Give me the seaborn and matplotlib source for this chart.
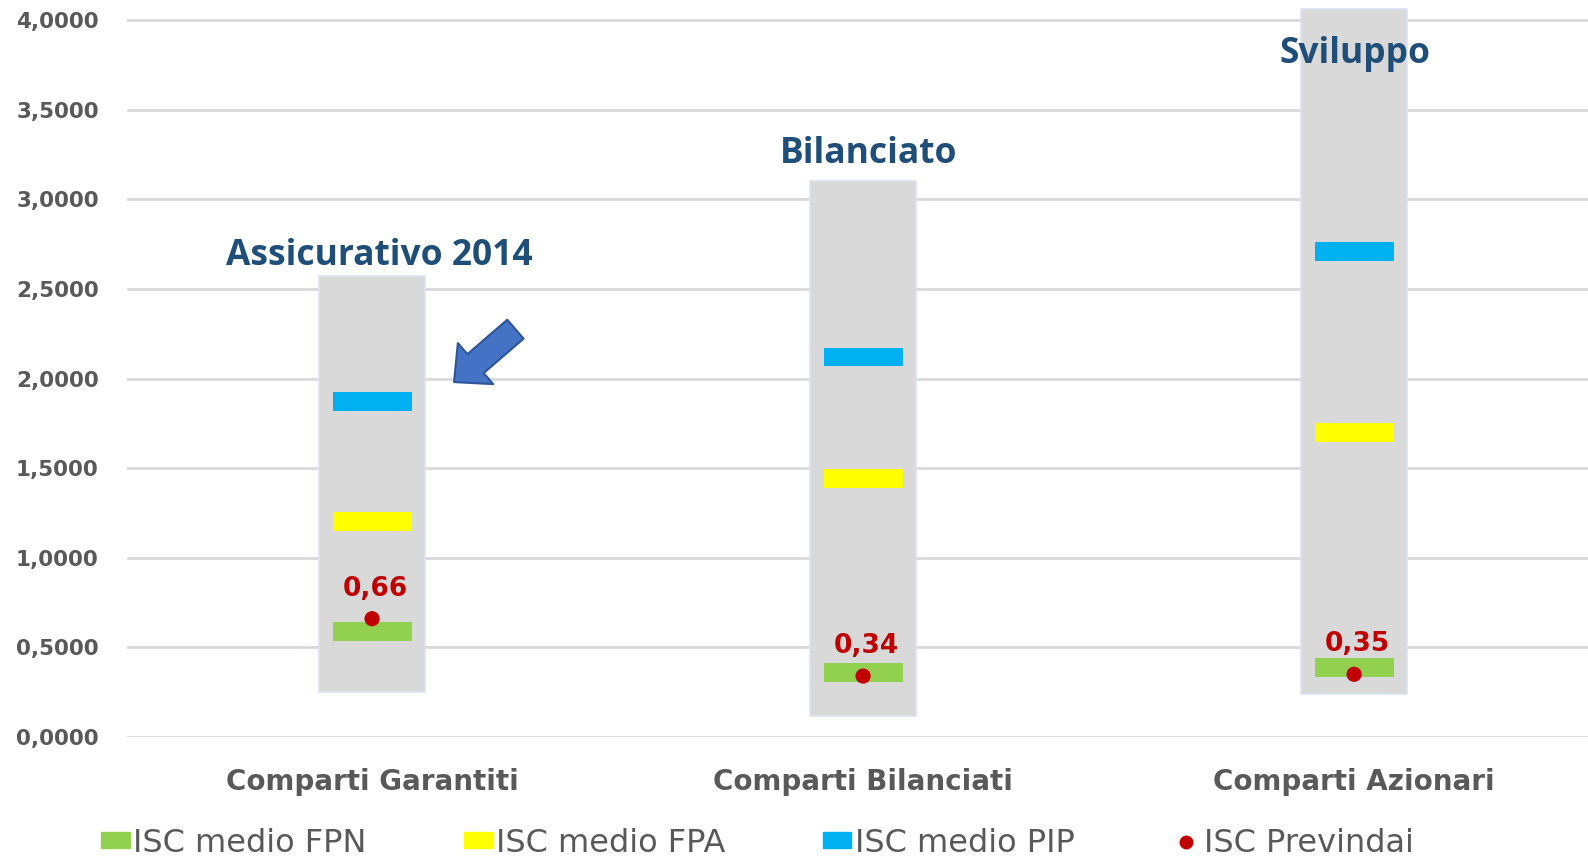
import seaborn as sns
import matplotlib.pyplot as plt
import pandas as pd
from matplotlib.patches import Patch
from matplotlib.lines import Line2D

categories = ["Comparti Garantiti", "Comparti Bilanciati", "Comparti Azionari"]
range_min = [0.25, 0.12, 0.24]
range_max = [2.57, 3.10, 4.06]
isc_fpn = [0.59, 0.36, 0.39]
isc_fpa = [1.20, 1.44, 1.70]
isc_pip = [1.87, 2.12, 2.71]
isc_previndai = [0.66, 0.34, 0.35]
previndai_labels = ["0,66", "0,34", "0,35"]
line_names = ["Assicurativo 2014", "Bilanciato", "Sviluppo"]
yticks = [0.0, 0.5, 1.0, 1.5, 2.0, 2.5, 3.0, 3.5, 4.0]
ytick_labels = ["0,0000", "0,5000", "1,0000", "1,5000", "2,0000",
                "2,5000", "3,0000", "3,5000", "4,0000"]

sns.set_theme(style="white")
plt.rcParams["font.family"] = ["DejaVu Sans"]

df = pd.DataFrame({"cat": categories, "lo": range_min, "hi": range_max,
                   "fpn": isc_fpn, "fpa": isc_fpa, "pip": isc_pip,
                   "prev": isc_previndai})
df["x"] = range(len(df))

fig = plt.figure(figsize=(15.88, 8.57), dpi=100)
ax = fig.add_axes([0.0797, 0.14, 0.9276, 0.8576])

grey = "#D9D9D9"
ax.set_ylim(0, 4.1)
ax.set_xlim(-0.5, 2.5)
ax.set_yticks(yticks)
ax.set_yticklabels(ytick_labels)
ax.yaxis.grid(True, color="#D9D9D9", linewidth=2)
ax.set_axisbelow(True)
for s in ax.spines.values():
    s.set_visible(False)

# barre flottanti min-max
ax.bar(df["x"], df["hi"] - df["lo"], bottom=df["lo"], width=0.216,
       color=grey, edgecolor="#DAE3F3", linewidth=1.2, zorder=2)

# trattini ISC medio
dash_h = 0.105
for col, c in [("fpn", "#92D050"), ("fpa", "#FFFF00"), ("pip", "#00B0F0")]:
    ax.bar(df["x"], dash_h, bottom=df[col] - dash_h / 2, width=0.161,
           color=c, linewidth=0, zorder=3)

sns.scatterplot(data=df, x="x", y="prev", color="#C00000", s=120,
                edgecolor="none", ax=ax, zorder=4, legend=False)
for i, lab in enumerate(previndai_labels):
    ax.annotate(lab, (df["x"][i], df["prev"][i]), xytext=(3, 30),
                textcoords="offset pixels", ha="center", va="center",
                color="#C00000", fontsize=19, fontweight="bold")

# etichette delle linee (posizioni come nell'originale)
name_pos = [(0.014, 2.685), (1.012, 3.25), (2.002, 3.81)]
for name, (nx, ny) in zip(line_names, name_pos):
    ax.text(nx, ny, name, ha="center", va="center",
            color="#1F4E79", fontsize=25.5, fontweight="bold",
            family=["Open Sans", "DejaVu Sans"])

ax.annotate("", xy=(0.167, 1.98), xytext=(0.292, 2.275),
            arrowprops=dict(arrowstyle="simple,head_length=0.68,head_width=1.3,tail_width=0.6",
                            fc="#4472C4", ec="#2F5597", lw=1.5, mutation_scale=30,
                            shrinkA=0, shrinkB=0),
            zorder=5)

ax.set_xticks(df["x"])
ax.set_xticklabels(categories, fontsize=20, fontweight="bold", color="#595959")
ax.tick_params(axis="x", length=0, pad=22)
ax.tick_params(axis="y", length=0, pad=20, labelsize=15.5, labelcolor="#595959")
for t in ax.get_yticklabels():
    t.set_fontweight("bold")
ax.set_xlabel("")
ax.set_ylabel("")

handles = [Patch(color="#92D050"), Patch(color="#FFFF00"), Patch(color="#00B0F0"),
           Line2D([], [], marker="o", color="#C00000", linestyle="none", markersize=9)]
labels = ["ISC medio FPN", "ISC medio FPA", "ISC medio PIP", "ISC Previndai"]
leg = fig.legend(handles, labels, loc="center", bbox_to_anchor=(0.477, 0.016),
                 ncol=4, frameon=False, fontsize=23, handlelength=0.9,
                 handleheight=0.4, handletextpad=0.1, columnspacing=3.05)
for t in leg.get_texts():
    t.set_color("#595959")

fig.savefig("out.png", dpi=100)
